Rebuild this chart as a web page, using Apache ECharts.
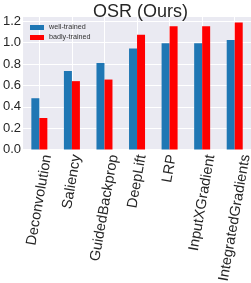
<!DOCTYPE html>
<html><head><meta charset="utf-8">
<script src="https://cdn.jsdelivr.net/npm/echarts@6/dist/echarts.min.js"></script>
<style>html,body{margin:0;padding:0;background:#fff}#c{width:251px;height:283px}</style>
</head><body><div id="c"></div>
<script>
const categories = ["Deconvolution","Saliency","GuidedBackprop","DeepLift","LRP","InputXGradient","IntegratedGradients"];
const wellTrained = [0.48, 0.735, 0.81, 0.945, 0.995, 0.995, 1.025];
const badlyTrained = [0.295, 0.64, 0.655, 1.075, 1.155, 1.155, 1.19];
const seriesNames = ["well-trained","badly-trained"];
const titleText = "OSR (Ours)";

const gridCats = [];
for (let i = 0; i < categories.length * 2 + 1; i++) gridCats.push(String(i));

const LABEL_FONT_SIZE = 14.5;
const LABEL_FONT = LABEL_FONT_SIZE + 'px "Liberation Sans"';
const ROT = 80 * Math.PI / 180;
const mctx = document.createElement('canvas').getContext('2d');
mctx.font = LABEL_FONT;

const chart = echarts.init(document.getElementById('c'), null, {renderer:'canvas'});
chart.setOption({
  backgroundColor:'#ffffff',
  animation:false,
  title:{text:titleText,left:135.5,top:-2,textAlign:'center',textStyle:{fontFamily:'Liberation Sans',fontSize:18,fontWeight:'normal',color:'#262626'}},
  legend:{data:seriesNames,left:25,top:19,orient:'vertical',itemWidth:14,itemHeight:5,itemGap:3,
    textStyle:{fontFamily:'Liberation Sans',fontSize:7.2,color:'#333333'},icon:'rect'},
  grid:{left:19,right:0,top:16,bottom:133.5},
  xAxis:[{type:'category',data:categories,
    axisLine:{show:false},axisTick:{show:false},splitLine:{show:false},axisLabel:{show:false}},
   {type:'category',data:gridCats,boundaryGap:false,position:'bottom',
    axisLine:{show:false},axisTick:{show:false},axisLabel:{show:false},
    splitLine:{show:true,interval:function(i){return i%2===1;},lineStyle:{color:'#ffffff',width:1}}}],
  yAxis:{type:'value',min:0,max:1.25,interval:0.2,
    axisLine:{show:false},axisTick:{show:false},
    axisLabel:{showMaxLabel:false,margin:2,fontFamily:'Liberation Sans',fontSize:13,color:'#262626',formatter:v=>v.toFixed(1)},
    splitLine:{lineStyle:{color:'#ffffff',width:1}},
    splitArea:{show:true,areaStyle:{color:['#EAEAF2','#EAEAF2']}}},
  series:[
    {name:seriesNames[0],type:'bar',xAxisIndex:0,data:wellTrained,barWidth:8,barGap:'0%',itemStyle:{color:'#1F77B4'}},
    {name:seriesNames[1],type:'bar',xAxisIndex:0,data:badlyTrained,barWidth:8,barGap:'0%',itemStyle:{color:'#FF0000'}},
    {type:'custom',xAxisIndex:0,silent:true,clip:false,
     data:categories.map((c,i)=>[i,0]),
     renderItem:function(params, api){
       const i = api.value(0);
       const p = api.coord([i, 0]);
       const text = categories[i];
       const L = mctx.measureText(text).width;
       const h = LABEL_FONT_SIZE;
       const ex = p[0] + L*Math.cos(ROT)/2;
       const ey = p[1] + 3 + h/2*Math.cos(ROT) + 1;
       return {type:'text', x:ex, y:ey, rotation:ROT,
         style:{text:text, font:LABEL_FONT, fill:'#262626', align:'right', verticalAlign:'middle'}};
     }}
  ]
});
</script></body></html>
